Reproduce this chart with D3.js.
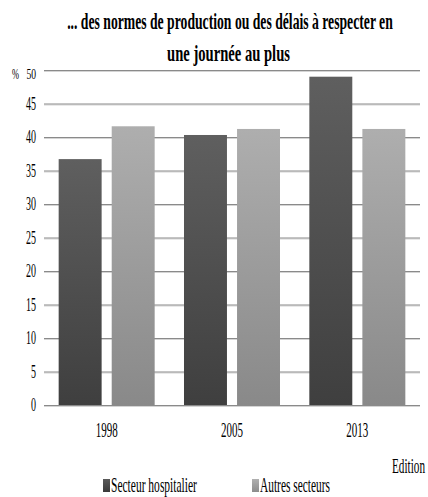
<!DOCTYPE html>
<html><head><meta charset="utf-8">
<script src="https://cdn.jsdelivr.net/npm/d3@7"></script>
<style>html,body{margin:0;padding:0;background:#fff;}svg{display:block;}</style>
</head><body>
<script>
const categories = ["1998", "2005", "2013"];
const seriesNames = ["Secteur hospitalier", "Autres secteurs"];
const hospitalier = [36.7, 40.3, 49.0];
const autres = [41.6, 41.2, 41.2];
const yTicks = [0, 5, 10, 15, 20, 25, 30, 35, 40, 45, 50];
const titleLines = ["... des normes de production ou des délais à respecter en", "une journée au plus"];
const xAxisTitle = "Edition";
const unitLabel = "%";

const W = 428, H = 497;
const FONT = "'Liberation Serif','Times New Roman',serif";

const svg = d3.select("body").append("svg").attr("width", W).attr("height", H);
const defs = svg.append("defs");
function grad(id, top, bottom) {
  const g = defs.append("linearGradient").attr("id", id).attr("x1", 0).attr("y1", 0).attr("x2", 0).attr("y2", 1);
  g.append("stop").attr("offset", "0%").attr("stop-color", top);
  g.append("stop").attr("offset", "100%").attr("stop-color", bottom);
}
grad("gDark", "#5f5f5f", "#3f3f3f");
grad("gLight", "#aeaeae", "#898989");
grad("lDark", "#5a5a5a", "#3a3a3a");
grad("lLight", "#b0b0b0", "#8c8c8c");
const fills = ["url(#gDark)", "url(#gLight)"];
const legendFills = ["url(#lDark)", "url(#lLight)"];

// condensed text: horizontally scaled so the rendered width equals `width`
function ctext(parent, x, y, str, size, anchor, weight, width) {
  const g = parent.append("g");
  const t = g.append("text").attr("x", 0).attr("y", 0)
    .attr("text-anchor", anchor || "middle")
    .attr("font-family", FONT).attr("font-size", size).attr("font-weight", weight || "normal")
    .attr("fill", "#000").text(str);
  const natural = t.node().getComputedTextLength() || 1;
  const sx = width ? width / natural : 1;
  g.attr("transform", `translate(${x},${y}) scale(${sx},1)`);
  return g;
}

const x0 = 44, x1 = 420, yTop = 70, yBot = 405;
const x = d3.scaleBand().domain(categories).range([x0, x1]).paddingInner(0.234).paddingOuter(0.117);
const xs = d3.scaleBand().domain(seriesNames).range([0, x.bandwidth()]).paddingInner(0.19).paddingOuter(0);
const y = d3.scaleLinear().domain([0, 50]).range([yBot, yTop]);

// gridlines
const grid = svg.append("g");
yTicks.forEach(t => {
  grid.append("line").attr("x1", x0).attr("x2", x1).attr("y1", y(t) + 1.5).attr("y2", y(t) + 1.5)
    .attr("stroke", "#d4d4d4").attr("stroke-width", 1);
  grid.append("line").attr("x1", x0).attr("x2", x1).attr("y1", y(t) + 0.5).attr("y2", y(t) + 0.5)
    .attr("stroke", "#8a8a8a").attr("stroke-width", 1.2);
});

// bars
const data = categories.map((c, i) => ({ cat: c, vals: [hospitalier[i], autres[i]] }));
const groups = svg.append("g").selectAll("g").data(data).join("g")
  .attr("transform", d => `translate(${x(d.cat)},0)`);
groups.selectAll("rect").data(d => d.vals.map((v, j) => ({ v, j })))
  .join("rect")
  .attr("x", d => xs(seriesNames[d.j]))
  .attr("width", xs.bandwidth())
  .attr("y", d => y(d.v))
  .attr("height", d => y(0) - y(d.v))
  .attr("fill", d => fills[d.j]);

// y tick labels
yTicks.forEach(t => {
  const s = String(t);
  if (t === 50) ctext(svg, 36, y(t) + 8.5, s, 15, "end", "normal", s.length * 4.8);
  else ctext(svg, 36, y(t) + 6, s, 18, "end", "normal", s.length * 5);
});
ctext(svg, 15.5, y(50) + 8.5, unitLabel, 15, "middle", "normal", 7);

// x labels
categories.forEach(c => ctext(svg, x(c) + x.bandwidth() / 2, 437, c, 21, "middle", "normal", 22));
ctext(svg, 425, 473, xAxisTitle, 20, "end", "normal", 33);

// title
ctext(svg, 230, 29, titleLines[0], 24, "middle", "bold", 326);
ctext(svg, 228.5, 61, titleLines[1], 24, "middle", "bold", 123);

// legend
const legX = [103, 252];
const legW = [86, 70];
seriesNames.forEach((s, i) => {
  svg.append("rect").attr("x", legX[i]).attr("y", 479).attr("width", 7).attr("height", 13).attr("fill", legendFills[i]);
  ctext(svg, legX[i] + 8, 492, s, 21, "start", "normal", legW[i]);
});
</script>
</body></html>
